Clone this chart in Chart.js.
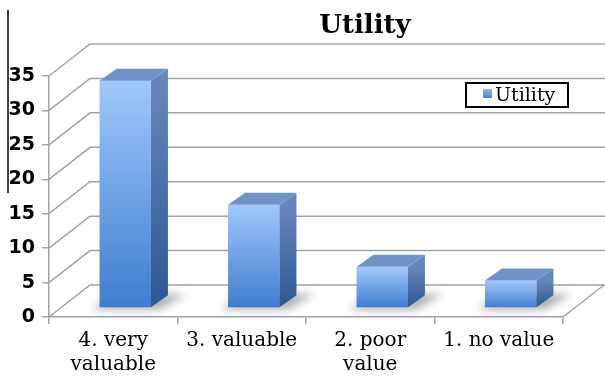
<!DOCTYPE html>
<html>
<head>
<meta charset="utf-8">
<script src="https://cdn.jsdelivr.net/npm/chart.js@4.4.1/dist/chart.umd.min.js"></script>
<style>
    body { margin: 0; background: #ffffff; }
    canvas { display: block; }
</style>
</head>
<body>
<canvas id="barra3d" width="605" height="378"></canvas>
<script>
const titulo = 'Utility';
const categorias = [['4. very', 'valuable'], '3. valuable', ['2. poor', 'value'], '1. no value'];
const valores = [33, 15, 6, 4];
const marcasY = [0, 5, 10, 15, 20, 25, 30, 35];

// deslocamentos da perspectiva (parede do fundo, frente e fundo das barras)
const PAREDE = { dx: 41, dy: -32 };
const FRENTE = { dx: 12, dy: -9 };
const FUNDO = { dx: 17, dy: -12 };
const CINZA = '#a3a3a3';

function gradienteVertical(ctx, y0, y1, corTopo, corBase) {
    const g = ctx.createLinearGradient(0, y0, 0, y1);
    g.addColorStop(0, corTopo);
    g.addColorStop(1, corBase);
    return g;
}

const efeito3d = {
    id: 'efeito3d',
    beforeDatasetsDraw(chart) {
        const { ctx, chartArea } = chart;
        const y = chart.scales.y;

        ctx.save();
        ctx.strokeStyle = CINZA;
        ctx.lineWidth = 1.5;
        // linhas de grade: diagonal ate a parede e depois no fundo
        marcasY.forEach(v => {
            const py = y.getPixelForValue(v);
            ctx.beginPath();
            ctx.moveTo(chartArea.left, py);
            ctx.lineTo(chartArea.left + PAREDE.dx, py + PAREDE.dy);
            ctx.lineTo(chart.width, py + PAREDE.dy);
            ctx.stroke();
        });
        // borda direita do chao
        ctx.beginPath();
        ctx.moveTo(chartArea.right, chartArea.bottom);
        ctx.lineTo(chartArea.right + PAREDE.dx, chartArea.bottom + PAREDE.dy);
        ctx.stroke();

        // sombras no chao
        ctx.filter = 'blur(4px)';
        ctx.fillStyle = 'rgba(70, 70, 70, 0.45)';
        chart.getDatasetMeta(0).data.forEach(barra => {
            const esq = barra.x - barra.width / 2 + FRENTE.dx;
            const dir = barra.x + barra.width / 2 + FRENTE.dx;
            const base = barra.base + FRENTE.dy;
            ctx.beginPath();
            ctx.moveTo(esq - 8, base + 2);
            ctx.lineTo(dir + 8, base + 2);
            ctx.lineTo(dir + FUNDO.dx + 18, base + FUNDO.dy - 1);
            ctx.lineTo(esq + FUNDO.dx, base + FUNDO.dy - 1);
            ctx.closePath();
            ctx.fill();
        });
        ctx.restore();

        // a face da frente fica um pouco para dentro da caixa
        ctx.save();
        ctx.translate(FRENTE.dx, FRENTE.dy);
    },
    afterDatasetsDraw(chart) {
        const { ctx } = chart;
        ctx.restore();

        ctx.save();
        chart.getDatasetMeta(0).data.forEach(barra => {
            const esq = barra.x - barra.width / 2 + FRENTE.dx;
            const dir = barra.x + barra.width / 2 + FRENTE.dx;
            const topo = barra.y + FRENTE.dy;
            const base = barra.base + FRENTE.dy;

            // lateral
            ctx.fillStyle = gradienteVertical(ctx, topo, base, '#6587bc', '#2c5893');
            ctx.beginPath();
            ctx.moveTo(dir, topo);
            ctx.lineTo(dir + FUNDO.dx, topo + FUNDO.dy);
            ctx.lineTo(dir + FUNDO.dx, base + FUNDO.dy);
            ctx.lineTo(dir, base);
            ctx.closePath();
            ctx.fill();

            // tampa
            ctx.fillStyle = '#7093c7';
            ctx.beginPath();
            ctx.moveTo(esq, topo);
            ctx.lineTo(esq + FUNDO.dx, topo + FUNDO.dy);
            ctx.lineTo(dir + FUNDO.dx, topo + FUNDO.dy);
            ctx.lineTo(dir, topo);
            ctx.closePath();
            ctx.fill();
        });
        ctx.restore();
    },
    afterDraw(chart) {
        const { ctx } = chart;
        ctx.save();

        // linha preta da margem
        ctx.strokeStyle = '#000000';
        ctx.lineWidth = 1.5;
        ctx.beginPath();
        ctx.moveTo(8, 10);
        ctx.lineTo(8, 193);
        ctx.stroke();

        // titulo
        ctx.fillStyle = '#000000';
        ctx.font = 'bold 26px "DejaVu Serif"';
        ctx.textAlign = 'center';
        ctx.textBaseline = 'alphabetic';
        ctx.fillText(titulo, 365, 33);

        // legenda
        ctx.fillStyle = '#ffffff';
        ctx.fillRect(466, 83, 102, 24);
        ctx.strokeStyle = '#000000';
        ctx.lineWidth = 2;
        ctx.strokeRect(466, 83, 102, 24);
        ctx.fillStyle = gradienteVertical(ctx, 89, 98, '#8fb8ee', '#4a84d2');
        ctx.fillRect(483, 89, 9, 9);
        ctx.fillStyle = '#000000';
        ctx.font = '19px "DejaVu Serif"';
        ctx.textAlign = 'left';
        ctx.textBaseline = 'middle';
        ctx.fillText(chart.data.datasets[0].label, 495, 96);
        ctx.restore();
    }
};

function carregarGrafico() {
    const grafico = document.getElementById('barra3d');

    new Chart(grafico, {
        type: 'bar',
        data: {
            labels: categorias,
            datasets: [{
                label: titulo,
                data: valores,
                backgroundColor: (context) => {
                    const chart = context.chart;
                    if (!chart.chartArea || context.raw === undefined) {
                        return '#6a9fe4';
                    }
                    const y = chart.scales.y;
                    return gradienteVertical(chart.ctx, y.getPixelForValue(context.raw),
                        y.getPixelForValue(0), '#a0c8fc', '#3e7dcf');
                },
                borderWidth: 0,
                categoryPercentage: 1,
                barPercentage: 0.4
            }]
        },
        options: {
            responsive: false,
            animation: false,
            layout: {
                padding: { top: 76, right: 42, left: 0, bottom: 0 }
            },
            plugins: {
                legend: { display: false },
                title: { display: false },
                tooltip: { enabled: false }
            },
            scales: {
                x: {
                    grid: {
                        drawOnChartArea: false,
                        tickLength: 7,
                        color: CINZA,
                        lineWidth: 1.5
                    },
                    border: { color: CINZA, width: 1.5 },
                    ticks: {
                        color: '#000000',
                        maxRotation: 0,
                        autoSkip: false,
                        padding: 5,
                        font: {
                            family: 'DejaVu Serif',
                            size: 20,
                            lineHeight: 1.2
                        }
                    },
                    afterFit: (scale) => { scale.height = 61; }
                },
                y: {
                    min: marcasY[0],
                    max: marcasY[marcasY.length - 1],
                    grid: {
                        drawOnChartArea: false,
                        tickLength: 7,
                        color: CINZA,
                        lineWidth: 1.5
                    },
                    border: { color: CINZA, width: 1.5 },
                    ticks: {
                        color: '#000000',
                        padding: 7,
                        font: {
                            family: 'DejaVu Sans',
                            size: 19,
                            weight: 'bold'
                        }
                    },
                    afterBuildTicks: (scale) => {
                        scale.ticks = marcasY.map(v => ({ value: v }));
                    },
                    afterFit: (scale) => { scale.width = 49; }
                }
            }
        },
        plugins: [efeito3d]
    });
}

carregarGrafico();
</script>
</body>
</html>
